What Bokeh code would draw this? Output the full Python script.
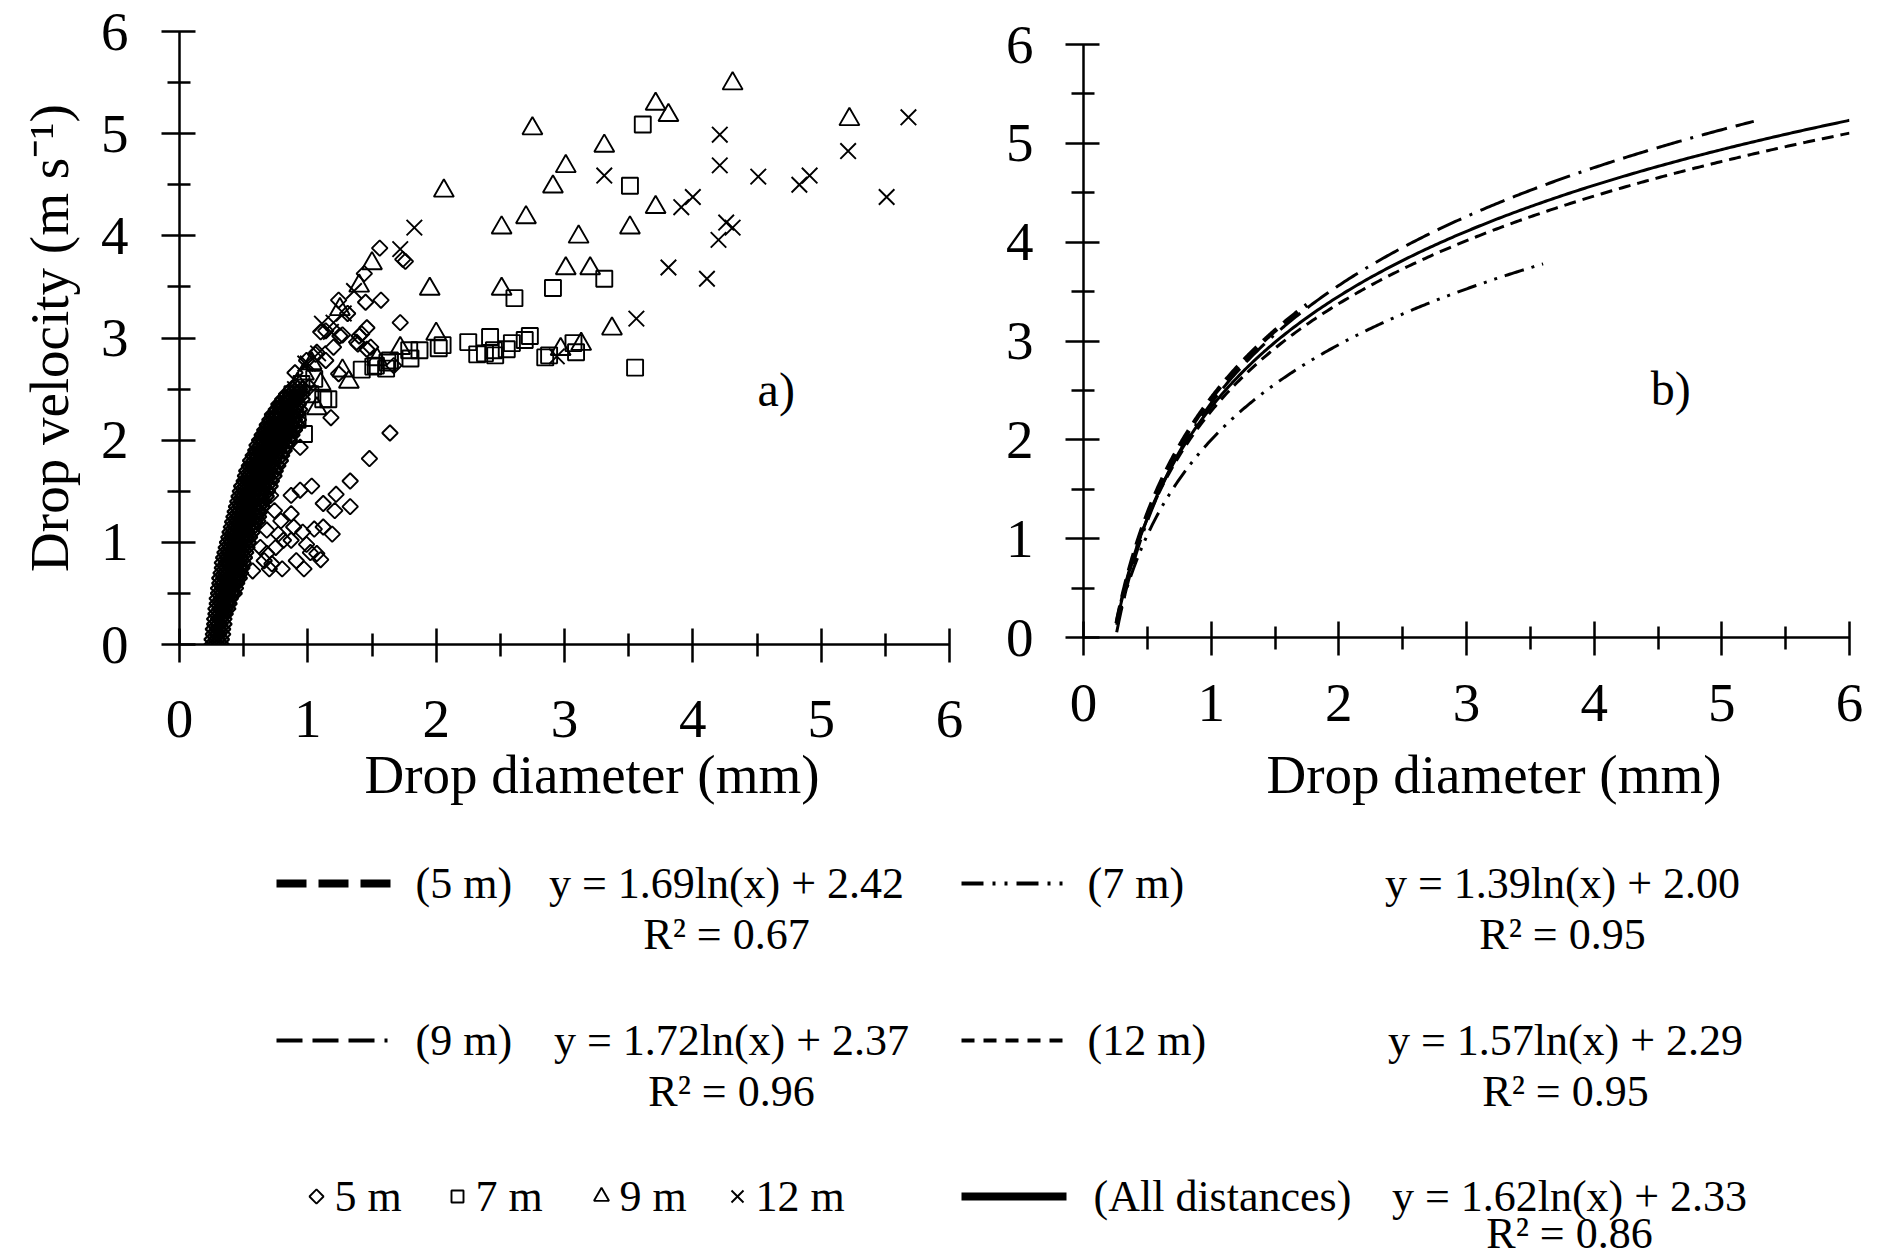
import numpy as np
from bokeh.plotting import figure
from bokeh.models import FixedTicker, Range1d, Label
from bokeh.layouts import column, row
from bokeh.embed import file_html
from bokeh.resources import INLINE
from bokeh.core.properties import value

FONT = "Liberation Serif"

# ---------------- data : panel a) scatter ----------------
# 5 m (diamonds) - scattered points
d5_x = [1.56, 1.76, 1.74, 1.57, 1.72, 1.44, 1.45, 1.24, 1.46, 1.38, 1.46, 1.67, 1.20, 1.27, 1.14,
        1.07, 0.90, 1.18, 0.94, 1.01, 1.10, 1.42, 1.31, 1.14, 1.25, 1.40, 1.39, 1.06, 0.99, 1.24, 1.49,
        1.48, 1.64, 1.33, 1.33, 1.22, 1.12, 1.21, 1.03, 0.94, 0.87, 0.71, 1.19, 1.10, 1.12, 1.05,
        1.02, 0.97, 0.91, 0.96, 0.87, 0.80, 0.79, 0.75, 0.72, 0.66, 0.70, 0.57, 0.63, 0.68, 0.61,
        0.81, 0.74, 0.87, 0.64, 0.77, 0.89, 0.99, 1.07, 0.68]
d5_y = [3.88, 3.75, 3.77, 3.37, 3.15, 3.63, 3.35, 3.37, 3.10, 2.96, 2.89, 2.73, 2.91, 3.03, 2.78,
        2.86, 2.66, 2.22, 1.93, 2.52, 3.06, 3.04, 3.24, 3.07, 3.02, 3.02, 2.94, 2.84, 2.78, 2.65, 2.91,
        1.82, 2.07, 1.60, 1.35, 1.47, 1.38, 1.31, 1.55, 1.51, 1.46, 1.46, 1.08, 0.83, 1.15, 1.13,
        0.90, 0.74, 0.82, 1.10, 1.02, 0.74, 1.21, 0.95, 0.79, 0.82, 0.74, 0.72, 0.95, 1.12, 1.21,
        1.02, 1.31, 1.28, 1.34, 1.08, 1.15, 0.98, 0.89, 0.89]

# 5 m (diamonds) - the dense band of small drops: (velocity, [diameters])
band_rows = [
    (0.00, [0.26, 0.29, 0.32]), (0.05, [0.26, 0.29, 0.32]), (0.10, [0.27, 0.30, 0.33]),
    (0.15, [0.27, 0.30, 0.33]), (0.20, [0.28, 0.31, 0.34]), (0.25, [0.28, 0.31, 0.34]),
    (0.30, [0.29, 0.32, 0.35]), (0.35, [0.29, 0.32, 0.35, 0.37]), (0.40, [0.30, 0.33, 0.36, 0.38]),
    (0.45, [0.30, 0.33, 0.36, 0.39]), (0.50, [0.31, 0.34, 0.37, 0.40, 0.42]),
    (0.55, [0.31, 0.34, 0.37, 0.40, 0.43]), (0.60, [0.32, 0.35, 0.38, 0.41, 0.44]),
    (0.65, [0.32, 0.35, 0.38, 0.41, 0.44, 0.46]), (0.70, [0.33, 0.36, 0.39, 0.42, 0.45, 0.47]),
    (0.75, [0.34, 0.37, 0.40, 0.43, 0.46, 0.48]), (0.80, [0.34, 0.37, 0.40, 0.43, 0.46, 0.49]),
    (0.85, [0.35, 0.38, 0.41, 0.44, 0.47, 0.50]), (0.90, [0.36, 0.39, 0.42, 0.45, 0.48, 0.51]),
    (0.95, [0.37, 0.40, 0.43, 0.46, 0.49, 0.52]), (1.00, [0.38, 0.41, 0.44, 0.47, 0.50, 0.53]),
    (1.05, [0.39, 0.42, 0.45, 0.48, 0.51, 0.54]), (1.10, [0.40, 0.43, 0.46, 0.49, 0.52, 0.56]),
    (1.15, [0.41, 0.44, 0.47, 0.50, 0.53, 0.57]), (1.20, [0.42, 0.45, 0.48, 0.51, 0.54, 0.58]),
    (1.25, [0.43, 0.46, 0.49, 0.52, 0.55, 0.59, 0.61]), (1.30, [0.44, 0.47, 0.50, 0.53, 0.56, 0.60, 0.62]),
    (1.35, [0.45, 0.48, 0.51, 0.54, 0.57, 0.61, 0.64]), (1.40, [0.46, 0.49, 0.52, 0.55, 0.58, 0.62, 0.65]),
    (1.45, [0.47, 0.50, 0.53, 0.56, 0.59, 0.63, 0.67]), (1.50, [0.48, 0.51, 0.54, 0.57, 0.60, 0.64, 0.68]),
    (1.55, [0.49, 0.52, 0.55, 0.58, 0.61, 0.65, 0.70]), (1.60, [0.51, 0.54, 0.57, 0.60, 0.63, 0.67, 0.71]),
    (1.65, [0.52, 0.55, 0.58, 0.61, 0.64, 0.68, 0.73]), (1.70, [0.53, 0.56, 0.59, 0.62, 0.66, 0.70, 0.74]),
    (1.75, [0.55, 0.58, 0.61, 0.64, 0.68, 0.72, 0.76]), (1.80, [0.56, 0.59, 0.62, 0.65, 0.69, 0.73, 0.78]),
    (1.85, [0.58, 0.61, 0.64, 0.67, 0.71, 0.75, 0.79]), (1.90, [0.60, 0.63, 0.66, 0.69, 0.73, 0.77, 0.81]),
    (1.95, [0.61, 0.64, 0.67, 0.71, 0.75, 0.79, 0.83]), (2.00, [0.63, 0.66, 0.69, 0.73, 0.77, 0.81, 0.85]),
    (2.05, [0.65, 0.68, 0.71, 0.75, 0.79, 0.83, 0.87]), (2.10, [0.67, 0.70, 0.73, 0.77, 0.81, 0.85, 0.89]),
    (2.15, [0.69, 0.72, 0.75, 0.79, 0.83, 0.87, 0.91]), (2.20, [0.71, 0.74, 0.77, 0.81, 0.85, 0.89, 0.92]),
    (2.25, [0.73, 0.76, 0.79, 0.83, 0.87, 0.91]), (2.30, [0.76, 0.79, 0.82, 0.86, 0.90, 0.93]),
    (2.35, [0.78, 0.81, 0.84, 0.88, 0.92]), (2.40, [0.81, 0.84, 0.87, 0.91, 0.95]),
    (2.45, [0.84, 0.87, 0.91, 0.95]), (2.50, [0.88, 0.92, 0.96]),
]

# 7 m (squares)
d7_x = [3.61, 3.51, 3.31, 2.91, 2.61, 3.55, 1.42, 1.51, 1.61, 1.64, 1.80, 1.79, 1.87, 2.02, 2.05,
        2.25, 2.32, 2.42, 2.45, 2.46, 2.55, 2.59, 2.69, 2.73, 2.85, 3.07, 3.09, 1.53, 1.62, 1.16,
        0.97, 0.80, 0.88, 0.95, 1.02, 0.92, 1.05, 1.12, 2.38, 2.88]
d7_y = [5.09, 4.49, 3.58, 3.49, 3.39, 2.71, 2.69, 2.72, 2.70, 2.78, 2.80, 2.88, 2.88, 2.90, 2.93,
        2.96, 2.84, 3.01, 2.88, 2.83, 2.89, 2.95, 2.98, 3.02, 2.81, 2.95, 2.86, 2.73, 2.76, 2.40,
        2.06, 2.30, 2.45, 2.55, 2.45, 2.20, 2.60, 2.40, 2.85, 2.83]

# 9 m (triangles)
d9_x = [3.71, 2.75, 3.31, 3.01, 2.91, 2.06, 3.71, 2.70, 2.51, 3.51, 3.11, 1.50, 3.01, 3.20, 1.95,
        2.51, 3.37, 2.00, 2.97, 3.13, 1.72, 1.40, 1.27, 1.32, 1.54, 4.31, 3.81, 5.22, 1.25, 1.03,
        1.07, 0.97, 0.85, 0.92, 1.10, 0.80]
d9_y = [5.29, 5.05, 4.88, 4.68, 4.48, 4.44, 4.28, 4.18, 4.08, 4.08, 3.99, 3.73, 3.68, 3.68, 3.48,
        3.48, 3.09, 3.04, 2.89, 2.94, 2.90, 3.51, 2.68, 2.57, 2.79, 5.49, 5.18, 5.14, 3.28, 2.75,
        2.31, 2.65, 2.40, 2.55, 2.55, 2.25]

# 12 m (crosses)
d12_x = [1.83, 1.72, 3.31, 3.56, 2.94, 5.68, 4.21, 5.21, 4.21, 4.51, 4.91, 4.83, 5.51, 4.00, 3.91,
         4.26, 4.31, 4.20, 3.81, 4.11, 1.36, 1.11, 1.18, 1.28, 0.98, 0.82, 0.90, 1.00, 1.08, 1.20]
d12_y = [4.08, 3.87, 4.59, 3.19, 2.82, 5.16, 4.99, 4.83, 4.69, 4.58, 4.59, 4.50, 4.38, 4.38, 4.28,
         4.13, 4.08, 3.96, 3.69, 3.58, 3.46, 3.14, 3.06, 3.24, 2.75, 2.35, 2.50, 2.75, 2.85, 3.15]

# ---------------- data : panel b) fitted curves y = a ln(x) + b ----------------
fit_names = ["5 m", "7 m", "9 m", "12 m", "All distances"]
fit_a = [1.69, 1.39, 1.72, 1.57, 1.62]
fit_b = [2.42, 2.00, 2.37, 2.29, 2.33]
fit_r2 = ["0.67", "0.95", "0.96", "0.95", "0.86"]
fit_xmin = [0.26, 0.26, 0.26, 0.26, 0.26]
fit_xmax = [1.75, 3.60, 5.25, 6.00, 6.00]

ticks = [0, 1, 2, 3, 4, 5, 6]
minor = [0.5, 1.5, 2.5, 3.5, 4.5, 5.5]

# ---------------- layout (page pixels) ----------------
FIG_H = 830
A_TOP, A_BOTTOM = 31, 644
B_TOP, B_BOTTOM = 44, 637

# ---------------- styles ----------------
fit_style = {
    "5 m": dict(line_width=4.5, line_dash="18 9"),
    "7 m": dict(line_width=3, line_dash="20 8 3 8 3 8"),
    "9 m": dict(line_width=3, line_dash="26 9 26 9 26 9 3 9"),
    "12 m": dict(line_width=3, line_dash="12 7"),
    "All distances": dict(line_width=3, line_dash="solid"),
}


def style(p, xlab_standoff, xtitle_standoff, ylab_standoff):
    p.outline_line_color = None
    p.xgrid.visible = False
    p.ygrid.visible = False
    p.background_fill_color = "white"
    for ax in (p.xaxis[0], p.yaxis[0]):
        ax.ticker = FixedTicker(ticks=ticks, minor_ticks=minor)
        ax.axis_line_width = 2.5
        ax.axis_line_color = "black"
        ax.major_tick_line_width = 2.5
        ax.minor_tick_line_width = 2.5
        ax.major_tick_line_color = "black"
        ax.minor_tick_line_color = "black"
        ax.major_tick_in = 16
        ax.major_tick_out = 18
        ax.minor_tick_in = 11
        ax.minor_tick_out = 12
        ax.major_label_text_font = FONT
        ax.major_label_text_font_size = "55px"
        ax.major_label_text_color = "black"
        ax.axis_label_text_font = FONT
        ax.axis_label_text_font_size = "55px"
        ax.axis_label_text_font_style = "normal"
        ax.axis_label_text_color = "black"
    p.xaxis[0].major_label_standoff = xlab_standoff
    p.xaxis[0].axis_label_standoff = xtitle_standoff
    p.yaxis[0].major_label_standoff = ylab_standoff
    p.yaxis[0].axis_label_standoff = 18


# ---------------- panel a ----------------
pa = figure(width=980, height=FIG_H, x_range=Range1d(0, 6), y_range=Range1d(0, 6),
            output_backend="svg", toolbar_location=None, title=None,
            min_border_left=179, min_border_right=31, min_border_top=A_TOP,
            min_border_bottom=FIG_H - A_BOTTOM)
style(pa, 38, 4, 33)
pa.xaxis[0].axis_label = "\u00a0\u00a0\u00a0\u00a0Drop diameter (mm)"
pa.yaxis[0].axis_label = "Drop velocity (m s\u207b\u00b9)"

bx = [x for (v, xs) in band_rows for x in xs]
by = [v for (v, xs) in band_rows for x in xs]

mk = dict(fill_color=None, line_color="black", line_width=1.9)
pa.scatter(bx, by, marker="square", angle=np.pi / 4, size=12, fill_color=None,
           line_color="black", line_width=2.3)
pa.scatter(d5_x, d5_y, marker="square", angle=np.pi / 4, size=11, **mk)
pa.scatter(d7_x, d7_y, marker="square", size=16, **mk)
pa.scatter(d9_x, d9_y, marker="triangle", size=20, **mk)
pa.scatter(d12_x, d12_y, marker="x", size=22, **mk)
pa.add_layout(Label(x=4.65, y=2.50, text="a)", text_font=FONT, text_font_size="48px",
                    text_align="center", text_baseline="middle", text_color="black"))

# ---------------- panel b ----------------
pb = figure(width=904, height=FIG_H, x_range=Range1d(0, 6), y_range=Range1d(0, 6),
            output_backend="svg", toolbar_location=None, title=None,
            min_border_left=103, min_border_right=35, min_border_top=B_TOP,
            min_border_bottom=FIG_H - B_BOTTOM)
style(pb, 29, 20, 32)
pb.xaxis[0].axis_label = "\u00a0\u00a0\u00a0\u00a0Drop diameter (mm)"
for name, a, b, x0, x1 in zip(fit_names, fit_a, fit_b, fit_xmin, fit_xmax):
    xs = np.linspace(x0, x1, 300)
    ys = a * np.log(xs) + b
    pb.line(xs, ys, line_color="black", line_cap="butt", **fit_style[name])
pb.add_layout(Label(x=4.60, y=2.52, text="b)", text_font=FONT, text_font_size="48px",
                    text_align="center", text_baseline="middle", text_color="black"))

# ---------------- legend area ----------------
pl = figure(width=1884, height=428, x_range=Range1d(0, 1884), y_range=Range1d(1258, 830),
            output_backend="svg", toolbar_location=None, title=None,
            x_axis_type=None, y_axis_type=None, min_border=0)
pl.outline_line_color = None
pl.xgrid.visible = False
pl.ygrid.visible = False

col_line = [(276, 397), (961, 1066)]
row_y = [883, 1040, 1196]
r2_dy = [51, 51, 51, 51, 37]
legend_lines = [
    ("5 m", col_line[0], row_y[0], 8, "30 12"),
    ("7 m", col_line[1], row_y[0], 4, "22 9 3 9 3 9"),
    ("9 m", col_line[0], row_y[1], 4, "26 10 26 10 26 10 3 10"),
    ("12 m", col_line[1], row_y[1], 4, "13 9"),
    ("All distances", col_line[1], row_y[2], 8, "solid"),
]
for name, (x0, x1), y, w, dash in legend_lines:
    pl.line([x0, x1], [y, y], line_color="black", line_width=w, line_dash=dash, line_cap="butt")

label_x = [415, 1087, 415, 1087, 1093]
label_y = [row_y[0], row_y[0], row_y[1], row_y[1], row_y[2]]
eq_x = [726, 1562, 731, 1565, 1569]
txt = dict(text_font=value(FONT), text_font_size="44px", text_color="black", text_baseline="middle")
pl.text(x=label_x, y=label_y, text=["(" + n + ")" for n in fit_names], text_align="left", **txt)
pl.text(x=eq_x, y=label_y,
        text=["y = %.2fln(x) + %.2f" % (a, b) for a, b in zip(fit_a, fit_b)], text_align="center", **txt)
pl.text(x=eq_x, y=[y + d for y, d in zip(label_y, r2_dy)],
        text=["R\u00b2 = " + r for r in fit_r2], text_align="center", **txt)

# marker legend (row 3)
mk_names = ["5 m", "7 m", "9 m", "12 m"]
mk_x = [316, 457, 601, 737]
mk_y = row_y[2]
pl.scatter([mk_x[0]], [mk_y], marker="square", angle=np.pi / 4, size=10, **mk)
pl.scatter([mk_x[1]], [mk_y], marker="square", size=12, **mk)
pl.scatter([mk_x[2]], [mk_y], marker="triangle", size=15, **mk)
pl.scatter([mk_x[3]], [mk_y], marker="x", size=17, **mk)
pl.text(x=[x + 18 for x in mk_x], y=[mk_y] * 4, text=mk_names, text_align="left", **txt)

layout = column(row(column(pa), column(pb)), pl)
open("out.html", "w").write(file_html(layout, INLINE))
